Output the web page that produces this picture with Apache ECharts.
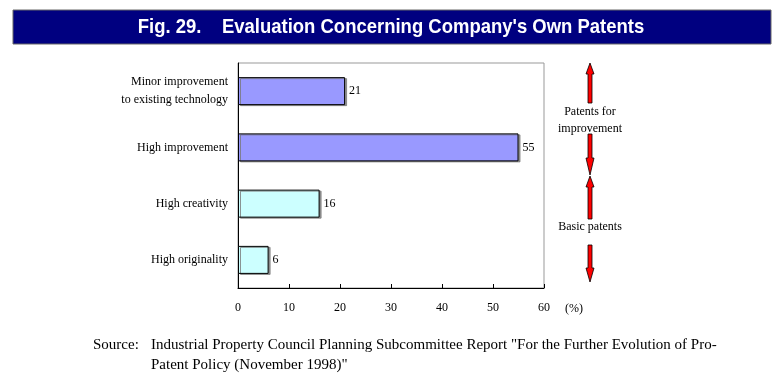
<!DOCTYPE html>
<html><head><meta charset="utf-8">
<script src="https://cdn.jsdelivr.net/npm/echarts@6/dist/echarts.min.js"></script>
<style>html,body{margin:0;padding:0;background:#fff}#c{width:784px;height:383px}</style>
</head><body><div id="c"></div>
<script>
const categories = ['High originality', 'High creativity', 'High improvement', 'Minor improvement\nto existing technology'];
const values = [6, 16, 55, 21];
const barColors = ['#ccffff', '#ccffff', '#9999ff', '#9999ff'];
const xTicks = [0, 10, 20, 30, 40, 50, 60];

const serif = '"Liberation Serif", "Times New Roman", serif';
const chart = echarts.init(document.getElementById('c'), null, {renderer: 'canvas'});

function arrow(x, yTip, yHead, yEnd) {
  const hw = 4, sw = 2;
  return {
    type: 'polygon', silent: true,
    shape: {points: [[x, yTip], [x + hw, yHead], [x + sw, yHead], [x + sw, yEnd], [x - sw, yEnd], [x - sw, yHead], [x - hw, yHead]]},
    style: {fill: '#ff0000', stroke: '#000', lineWidth: 0.8}
  };
}

chart.setOption({
  animation: false,
  backgroundColor: '#fff',
  grid: {left: 238, right: 240, top: 63, height: 225, containLabel: false, show: true, borderColor: '#999', borderWidth: 1},
  xAxis: {
    type: 'value', min: 0, max: 60, interval: 10,
    axisLine: {show: true, lineStyle: {color: '#000'}},
    axisTick: {show: true, inside: true, length: 4, lineStyle: {color: '#000'}},
    splitLine: {show: false},
    axisLabel: {color: '#000', fontFamily: serif, fontSize: 12, margin: 14,
      formatter: v => xTicks.includes(v) ? String(v) : ''}
  },
  yAxis: {
    type: 'category', data: categories,
    axisLine: {show: true, lineStyle: {color: '#000'}},
    axisTick: {show: false},
    axisLabel: {color: '#000', fontFamily: serif, fontSize: 12, margin: 10, align: 'right', lineHeight: 18}
  },
  series: [{
    type: 'bar',
    barWidth: 28,
    data: values.map((v, i) => ({value: v, itemStyle: {color: barColors[i]}})),
    itemStyle: {borderColor: '#000', borderWidth: 1, shadowColor: 'rgba(120,120,120,0.8)', shadowOffsetX: 2, shadowOffsetY: 1, shadowBlur: 0},
    label: {show: true, position: 'right', distance: 4, color: '#000', fontFamily: serif, fontSize: 12}
  }],
  graphic: [
    {type: 'rect', silent: true, shape: {x: 13, y: 10, width: 758, height: 34}, style: {fill: '#000080', stroke: '#666', lineWidth: 1}},
    {type: 'text', silent: true, x: 391, y: 27, scaleX: 0.88, style: {text: "Fig. 29.    Evaluation Concerning Company's Own Patents", fill: '#fff',
      font: 'bold 21px "Liberation Sans", Arial, sans-serif', textAlign: 'center', textVerticalAlign: 'middle'}},
    arrow(590, 63, 74, 103),
    arrow(590, 175, 158, 134),
    arrow(590, 176, 187, 219),
    arrow(590, 282, 268, 245),
    {type: 'text', silent: true, x: 590, y: 112, style: {text: 'Patents for', fill: '#000', font: '12px ' + serif, textAlign: 'center', textVerticalAlign: 'middle'}},
    {type: 'text', silent: true, x: 590, y: 129, style: {text: 'improvement', fill: '#000', font: '12px ' + serif, textAlign: 'center', textVerticalAlign: 'middle'}},
    {type: 'text', silent: true, x: 590, y: 227, style: {text: 'Basic patents', fill: '#000', font: '12px ' + serif, textAlign: 'center', textVerticalAlign: 'middle'}},
    {type: 'text', silent: true, x: 574, y: 309, style: {text: '(%)', fill: '#000', font: '12px ' + serif, textAlign: 'center', textVerticalAlign: 'middle'}},
    {type: 'text', silent: true, x: 93, y: 345, style: {text: 'Source:', fill: '#000', font: '15px ' + serif, textAlign: 'left', textVerticalAlign: 'middle'}},
    {type: 'text', silent: true, x: 151, y: 345, style: {text: 'Industrial Property Council Planning Subcommittee Report "For the Further Evolution of Pro-', fill: '#000', font: '15px ' + serif, textAlign: 'left', textVerticalAlign: 'middle'}},
    {type: 'text', silent: true, x: 151, y: 365, style: {text: 'Patent Policy (November 1998)"', fill: '#000', font: '15px ' + serif, textAlign: 'left', textVerticalAlign: 'middle'}}
  ]
});
</script></body></html>
